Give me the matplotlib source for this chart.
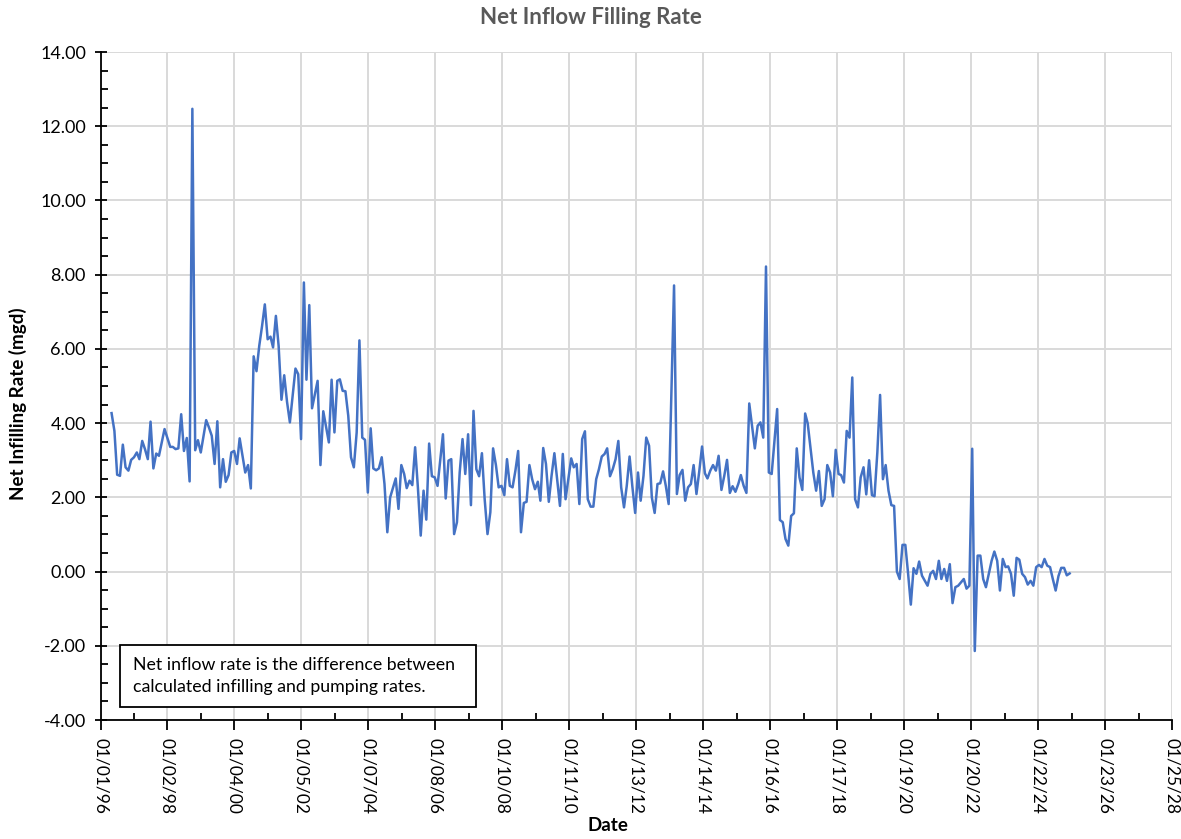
import matplotlib
matplotlib.use('Agg')
import matplotlib.pyplot as plt
import matplotlib.dates as mdates
from matplotlib.ticker import MultipleLocator, FuncFormatter
import numpy as np

plt.rcParams['font.family'] = ['Lato', 'DejaVu Sans']

# months since Jan 1996 and net inflow filling rate (mgd)
month_offset = [
    4, 5, 6, 7, 8, 9, 10, 11, 12, 13, 14, 15, 16, 17, 18, 19, 20, 21, 23, 24,
    25, 26, 27, 28, 29, 30, 31, 32, 33, 34, 35, 36, 38, 39, 40, 41, 42, 43, 44, 45,
    46, 47, 48, 49, 50, 51, 52, 53, 54, 55, 56, 57, 58, 59, 60, 61, 62, 63, 64, 65,
    66, 67, 68, 70, 71, 72, 73, 74, 75, 76, 78, 79, 80, 82, 83, 84, 85, 86, 87, 88,
    89, 90, 91, 92, 93, 94, 95, 96, 97, 98, 99, 100, 101, 102, 103, 104, 106, 107, 108, 109,
    110, 111, 112, 113, 114, 115, 116, 117, 118, 119, 120, 121, 123, 124, 125, 126, 127, 128, 129, 130,
    131, 132, 133, 134, 135, 136, 137, 138, 139, 140, 141, 142, 143, 144, 145, 146, 147, 148, 149, 150,
    151, 152, 153, 154, 155, 156, 157, 158, 159, 160, 161, 162, 163, 165, 166, 167, 168, 169, 170, 171,
    172, 173, 174, 175, 176, 177, 178, 179, 180, 181, 182, 183, 184, 185, 186, 187, 188, 189, 190, 191,
    192, 193, 194, 195, 196, 197, 198, 199, 200, 201, 202, 203, 204, 206, 207, 208, 209, 210, 211, 212,
    213, 214, 215, 216, 217, 218, 219, 220, 221, 222, 223, 224, 225, 226, 227, 228, 229, 230, 231, 232,
    233, 234, 235, 236, 237, 238, 239, 240, 241, 243, 244, 245, 246, 247, 248, 249, 250, 251, 252, 253,
    254, 256, 257, 258, 259, 260, 261, 262, 263, 264, 265, 266, 267, 268, 269, 270, 271, 272, 273, 274,
    275, 276, 277, 278, 279, 280, 281, 282, 283, 284, 285, 286, 287, 288, 289, 290, 291, 292, 293, 294,
    295, 297, 298, 299, 300, 301, 302, 303, 304, 305, 306, 307, 308, 310, 311, 312, 313, 314, 315, 316,
    317, 318, 319, 320, 321, 322, 323, 324, 325, 326, 327, 328, 329, 330, 331, 332, 333, 334, 335, 336,
    337, 338, 339, 340, 341, 342, 343, 344, 345, 346, 347, 348,
]
net_rate = [
    4.27, 3.79, 2.61, 2.58, 3.42, 2.81, 2.72, 3.01, 3.08, 3.21, 3.03, 3.52, 3.30, 3.03, 4.04, 2.78, 3.18, 3.12, 3.84, 3.60,
    3.36, 3.36, 3.30, 3.32, 4.24, 3.25, 3.60, 2.43, 12.47, 3.27, 3.54, 3.21, 4.08, 3.88, 3.66, 2.90, 4.05, 2.27, 3.03, 2.42,
    2.60, 3.21, 3.25, 2.90, 3.59, 3.12, 2.67, 2.87, 2.24, 5.80, 5.40, 6.08, 6.62, 7.20, 6.26, 6.33, 6.04, 6.89, 6.08, 4.63,
    5.29, 4.57, 4.02, 5.47, 5.32, 3.57, 7.79, 5.17, 7.18, 4.40, 5.14, 2.87, 4.32, 3.48, 5.17, 3.75, 5.14, 5.18, 4.87, 4.86,
    4.20, 3.08, 2.81, 3.75, 6.23, 3.61, 3.55, 2.13, 3.86, 2.78, 2.73, 2.78, 3.08, 2.36, 1.06, 2.00, 2.51, 1.69, 2.87, 2.63,
    2.25, 2.45, 2.33, 3.35, 2.27, 0.97, 2.18, 1.40, 3.45, 2.57, 2.54, 2.31, 3.70, 1.97, 2.99, 3.03, 1.01, 1.33, 2.67, 3.57,
    2.63, 3.70, 1.79, 4.33, 2.76, 2.57, 3.19, 1.95, 1.01, 1.60, 3.32, 2.87, 2.27, 2.31, 2.06, 3.03, 2.31, 2.27, 2.72, 3.25,
    1.06, 1.85, 1.88, 2.87, 2.49, 2.22, 2.42, 1.91, 3.33, 2.90, 1.88, 2.58, 3.19, 1.77, 3.17, 1.95, 2.49, 3.05, 2.81, 2.90,
    1.82, 3.57, 3.78, 1.95, 1.75, 1.75, 2.49, 2.76, 3.10, 3.17, 3.32, 2.57, 2.76, 3.03, 3.52, 2.27, 1.73, 2.31, 3.10, 2.30,
    1.58, 2.67, 1.91, 2.58, 3.61, 3.39, 2.00, 1.58, 2.36, 2.38, 2.70, 2.31, 1.82, 7.71, 2.09, 2.60, 2.74, 1.91, 2.27, 2.36,
    2.87, 2.09, 2.69, 3.37, 2.65, 2.51, 2.72, 2.87, 2.72, 3.12, 2.20, 2.58, 3.01, 2.12, 2.30, 2.15, 2.36, 2.60, 2.31, 2.12,
    4.53, 3.93, 3.32, 3.93, 4.02, 3.61, 8.22, 2.67, 2.63, 4.38, 1.39, 1.33, 0.88, 0.70, 1.50, 1.57, 3.32, 2.54, 2.20, 4.26,
    3.99, 2.67, 2.18, 2.71, 1.77, 1.95, 2.87, 2.67, 2.03, 3.28, 2.63, 2.60, 2.40, 3.79, 3.61, 5.23, 1.95, 1.73, 2.54, 2.81,
    2.08, 3.00, 2.06, 2.03, 3.21, 4.76, 2.49, 2.87, 2.18, 1.79, 1.77, 0.00, -0.20, 0.72, 0.72, -0.02, -0.89, 0.09, -0.06, 0.27,
    -0.11, -0.38, -0.06, 0.02, -0.20, 0.29, -0.20, 0.07, -0.25, 0.20, -0.85, -0.42, -0.38, -0.20, -0.46, -0.38, 3.31, -2.14, 0.43, 0.43,
    -0.20, -0.42, -0.06, 0.29, 0.54, 0.29, -0.51, 0.34, 0.12, 0.14, -0.06, -0.65, 0.37, 0.32, -0.06, -0.15, -0.35, -0.25, -0.38, 0.12,
    0.18, 0.12, 0.34, 0.16, 0.12, -0.20, -0.51, -0.12, 0.10, 0.10, -0.10, -0.05,
]

dates = (np.datetime64('1996-01') + np.array(month_offset)).astype('datetime64[D]')

# Excel style axis: 732 day major unit starting 01/01/96
x_start = np.datetime64('1996-01-01')
major_ticks = [x_start + np.timedelta64(732 * k, 'D') for k in range(17)]
minor_ticks = [x_start + np.timedelta64(366 + 732 * k, 'D') for k in range(16)]

fig = plt.figure(figsize=(11.81, 8.39), dpi=100)
ax = fig.add_axes([0.0851, 0.1418, 0.9073, 0.7962])

ax.plot(dates, net_rate, color='#4472C4', linewidth=1.8)

ax.set_xlim(major_ticks[0], major_ticks[-1])
ax.set_ylim(-4, 14)

ax.set_xticks(major_ticks)
ax.set_xticks(minor_ticks, minor=True)
ax.xaxis.set_major_formatter(mdates.DateFormatter('%m/%d/%y'))
ax.yaxis.set_major_locator(MultipleLocator(2))
ax.yaxis.set_minor_locator(MultipleLocator(0.5))
ax.yaxis.set_major_formatter(FuncFormatter(lambda v, p: f'{v:.2f}'))

for lbl in ax.get_xticklabels():
    lbl.set_rotation(-90)
    lbl.set_va('top')
    lbl.set_ha('center')

ax.tick_params(axis='x', which='major', direction='out', length=7, width=1.3,
               labelsize=12.5, pad=6)
ax.tick_params(axis='x', which='minor', direction='in', length=5, width=1.3)
ax.tick_params(axis='y', which='major', direction='inout', length=9, width=1.3,
               labelsize=13, pad=6)
ax.tick_params(axis='y', which='minor', direction='in', length=5, width=1.3)

ax.grid(True, which='major', color='#d9d9d9', linewidth=1.4)
ax.set_axisbelow(True)
for side in ['top', 'right']:
    ax.spines[side].set_visible(False)
ax.spines['left'].set_linewidth(1.3)
ax.spines['bottom'].set_linewidth(1.3)

fig.text(0.5, 0.979, 'Net Inflow Filling Rate', ha='center', va='center',
         fontsize=16, fontweight='bold', color='#595959')
fig.text(0.0152, 0.519, 'Net Infilling Rate (mgd)', rotation=90, ha='center',
         va='center', fontsize=13.5, fontweight='bold')
fig.text(0.515, 0.0155, 'Date', ha='center', va='center', fontsize=13.5,
         fontweight='bold')

# note box in the lower left
box = plt.Rectangle((0.0182, 0.0199), 0.3322, 0.0924, transform=ax.transAxes,
                    facecolor='white', edgecolor='black', linewidth=1.3, zorder=3)
ax.add_patch(box)
ax.text(0.0306, 0.0655,
        'Net inflow rate is the difference between\ncalculated infilling and pumping rates.',
        transform=ax.transAxes, ha='left', va='center', fontsize=12.8,
        linespacing=1.45, zorder=4)

fig.savefig('out.png', dpi=100, facecolor='white')
